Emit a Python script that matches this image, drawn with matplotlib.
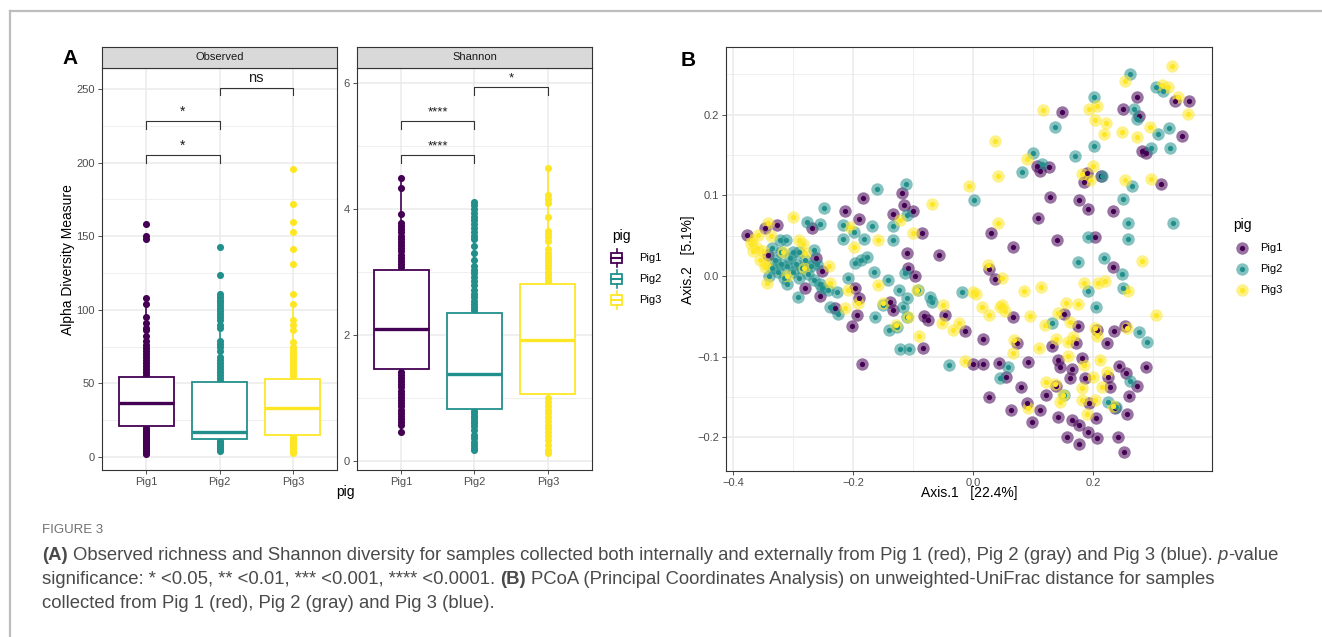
import numpy as np
import matplotlib.pyplot as plt
from matplotlib.patches import Rectangle

plt.rcParams['font.family'] = ['Liberation Sans', 'DejaVu Sans']

W, H = 1322, 637
pigs = ['Pig1', 'Pig2', 'Pig3']
colors = ['#440154', '#21908C', '#FDE725']

# Observed richness: box stats
obs_q1 = [21, 12, 15]
obs_med = [37, 17, 33]
obs_q3 = [54.5, 51, 53]
obs_lo = [2, 4, 3]
obs_hi = [104, 109, 104]
obs_pig1 = [2, 3, 4, 5, 6, 7, 8, 9, 10, 11, 12, 13, 14, 15, 16, 17, 18, 19, 20,
            56, 58, 60, 62, 64, 66, 68, 70, 72, 74, 76, 79, 82, 86, 88, 91, 95,
            104, 108, 148, 150, 158]
obs_pig2 = [4, 5, 6, 7, 8, 9, 10, 11, 52, 54, 56, 58, 60, 62, 64, 66, 68, 72,
            75, 77, 79, 88, 90, 93, 95, 97, 99, 101, 103, 105, 107, 109, 111,
            124, 143]
obs_pig3 = [3, 4, 5, 6, 7, 8, 9, 10, 11, 12, 13, 14, 55, 57, 59, 61, 63, 65,
            67, 69, 71, 73, 75, 78, 86, 90, 93, 104, 111, 131, 141, 153, 160,
            172, 196]

# Shannon
sha_q1 = [1.46, 0.83, 1.06]
sha_med = [2.10, 1.38, 1.92]
sha_q3 = [3.03, 2.35, 2.81]
sha_lo = [0.46, 0.17, 0.13]
sha_hi = [4.49, 4.12, 4.65]
sha_pig1 = [0.46, 0.57, 0.62, 0.67, 0.72, 0.77, 0.82, 0.87, 0.92, 0.97, 1.02,
            1.07, 1.12, 1.17, 1.22, 1.27, 1.32, 1.37, 1.42,
            3.08, 3.13, 3.18, 3.23, 3.28, 3.33, 3.38, 3.43, 3.48, 3.53, 3.58,
            3.63, 3.68, 3.73, 3.78, 3.92, 4.33, 4.49]
sha_pig2 = [0.17, 0.21, 0.26, 0.31, 0.36, 0.42, 0.5, 0.56, 0.6, 0.64, 0.68,
            0.72, 0.76, 0.8,
            2.40, 2.45, 2.50, 2.55, 2.60, 2.66, 2.72, 2.8, 2.86, 2.92, 2.98,
            3.04, 3.1, 3.2, 3.3, 3.42, 3.52, 3.58, 3.64, 3.7, 3.76, 3.82, 3.88,
            3.94, 4.0, 4.06, 4.12]
sha_pig3 = [0.13, 0.18, 0.26, 0.33, 0.4, 0.46, 0.52, 0.58, 0.64, 0.7, 0.76,
            0.82, 0.88, 0.94, 1.0,
            2.86, 2.91, 2.96, 3.01, 3.06, 3.11, 3.16, 3.21, 3.26, 3.31, 3.36,
            3.5, 3.55, 3.6, 3.65, 3.87, 4.1, 4.16, 4.22, 4.65]

# significance brackets: (from, to, bar height, label)
obs_brackets = [(1, 2, 205, '*'), (1, 2, 228, '*'), (2, 3, 251, 'ns')]
sha_brackets = [(1, 2, 4.86, '****'), (1, 2, 5.40, '****'), (2, 3, 5.94, '*')]

# PCoA coordinates
pig1_xy = [(-0.377, 0.051), (-0.347, 0.060), (-0.327, 0.063), (-0.342, 0.026), (-0.213, 0.080),
           (-0.183, 0.097), (-0.19, 0.071), (-0.268, 0.060), (-0.262, 0.022), (-0.252, 0.006),
           (-0.118, 0.103), (-0.115, 0.088), (-0.10, 0.081), (-0.133, 0.077), (-0.085, 0.053),
           (-0.11, 0.028), (-0.108, 0.010), (-0.097, 0.0), (-0.057, 0.026), (0.03, 0.053),
           (0.027, 0.008), (-0.28, -0.015), (-0.255, -0.025), (-0.23, -0.040), (-0.197, -0.015),
           (-0.19, -0.028), (-0.193, -0.049), (-0.202, -0.062), (-0.138, -0.032), (-0.133, -0.042),
           (-0.082, -0.050), (-0.075, -0.055), (-0.047, -0.048), (-0.013, -0.068), (0.017, -0.078),
           (-0.083, -0.089), (-0.185, -0.109), (0.0, -0.109), (0.017, -0.109), (0.027, -0.150),
           (0.043, -0.108), (0.148, 0.203), (0.25, 0.207), (0.273, 0.222), (0.277, 0.199),
           (0.337, 0.217), (0.36, 0.217), (0.348, 0.173), (0.282, 0.155), (0.288, 0.152),
           (0.107, 0.136), (0.112, 0.130), (0.127, 0.135), (0.19, 0.128), (0.185, 0.116),
           (0.213, 0.124), (0.313, 0.114), (0.128, 0.098), (0.177, 0.094), (0.192, 0.083),
           (0.233, 0.081), (0.108, 0.072), (0.067, 0.036), (0.14, 0.045), (0.203, 0.048),
           (0.233, 0.011), (0.037, -0.004), (0.067, -0.051), (0.152, -0.047), (0.175, -0.062),
           (0.207, -0.067), (0.235, -0.068), (0.253, -0.062), (0.223, -0.083), (0.132, -0.087),
           (0.172, -0.083), (0.073, -0.083), (0.092, -0.107), (0.142, -0.104), (0.145, -0.113),
           (0.165, -0.115), (0.162, -0.127), (0.182, -0.102), (0.187, -0.127), (0.243, -0.112),
           (0.255, -0.121), (0.288, -0.113), (0.273, -0.136), (0.225, -0.126), (0.228, -0.138),
           (0.138, -0.136), (0.055, -0.125), (0.08, -0.138), (0.122, -0.148), (0.09, -0.158),
           (0.063, -0.166), (0.112, -0.166), (0.193, -0.158), (0.237, -0.164), (0.26, -0.149),
           (0.257, -0.171), (0.142, -0.175), (0.165, -0.179), (0.177, -0.185), (0.205, -0.176),
           (0.098, -0.181), (0.192, -0.194), (0.157, -0.200), (0.207, -0.201), (0.177, -0.208),
           (0.242, -0.200), (0.252, -0.219)]
pig2_xy = [(-0.277, 0.067), (-0.255, 0.065), (-0.248, 0.084), (-0.312, 0.044), (-0.217, 0.063),
           (-0.217, 0.046), (-0.198, 0.054), (-0.182, 0.046), (-0.168, 0.062), (-0.16, 0.108),
           (-0.133, 0.062), (-0.133, 0.044), (-0.112, 0.114), (-0.11, 0.075), (0.002, 0.094),
           (-0.197, 0.016), (-0.187, 0.020), (-0.177, 0.024), (-0.165, 0.005), (-0.265, 0.032),
           (-0.335, 0.010), (-0.33, 0.02), (-0.325, 0.005), (-0.32, 0.015), (-0.315, -0.003),
           (-0.31, 0.012), (-0.305, 0.022), (-0.30, 0.005), (-0.295, 0.015), (-0.29, -0.002),
           (-0.285, 0.010), (-0.28, 0.02), (-0.275, 0.003), (-0.27, 0.012), (-0.265, -0.005),
           (-0.32, 0.03), (-0.30, 0.03), (-0.29, 0.03), (-0.34, 0.0), (-0.31, -0.01),
           (-0.26, 0.015), (-0.255, -0.01), (-0.335, 0.035), (-0.322, 0.045),
           (-0.292, -0.026), (-0.252, -0.015), (-0.242, -0.017), (-0.227, -0.020), (-0.238, -0.038),
           (-0.225, -0.047), (-0.208, -0.003), (-0.163, -0.051), (-0.142, -0.005), (-0.14, -0.067),
           (-0.127, -0.063), (-0.123, -0.017), (-0.117, -0.038), (-0.11, -0.028), (-0.11, -0.051),
           (-0.122, -0.091), (-0.107, -0.091), (-0.092, -0.017), (-0.072, -0.026), (-0.068, -0.032),
           (-0.018, -0.020), (-0.04, -0.111), (-0.15, -0.036), (-0.113, 0.004),
           (0.262, 0.251), (0.305, 0.234), (0.317, 0.229), (0.202, 0.222), (0.137, 0.185),
           (0.268, 0.207), (0.273, 0.195), (0.308, 0.176), (0.327, 0.183), (0.328, 0.159),
           (0.297, 0.159), (0.202, 0.161), (0.17, 0.149), (0.10, 0.153), (0.082, 0.129),
           (0.115, 0.139), (0.215, 0.124), (0.265, 0.112), (0.25, 0.096), (0.258, 0.066),
           (0.258, 0.046), (0.333, 0.066), (0.192, 0.048), (0.175, 0.017), (0.218, 0.022),
           (0.248, 0.002), (0.192, -0.019), (0.25, -0.015), (0.205, -0.038), (0.132, -0.058),
           (0.277, -0.070), (0.29, -0.082), (0.058, -0.113), (0.045, -0.127), (0.262, -0.130),
           (0.152, -0.148), (0.225, -0.157), (0.238, -0.163)]
pig3_xy = [(-0.342, 0.066), (-0.368, 0.045), (-0.367, 0.031), (-0.35, 0.031), (-0.337, 0.049),
           (-0.30, 0.073), (-0.29, 0.044), (-0.283, 0.040), (-0.28, 0.029), (-0.317, 0.030),
           (-0.347, 0.011), (-0.358, 0.051), (-0.24, 0.012), (-0.205, 0.061), (-0.198, 0.036),
           (-0.158, 0.045), (-0.122, 0.070), (-0.068, 0.089), (-0.007, 0.111), (0.037, 0.168),
           (0.042, 0.124), (0.042, 0.066), (0.025, 0.014), (-0.10, 0.053),
           (-0.36, 0.035), (-0.355, 0.02), (-0.345, 0.015), (-0.37, 0.04), (-0.31, 0.0), (-0.282, 0.01),
           (-0.343, -0.009), (-0.238, -0.009), (-0.208, -0.017), (-0.213, -0.040), (-0.192, -0.034),
           (-0.158, -0.011), (-0.15, -0.034), (-0.128, -0.061), (-0.09, -0.075), (-0.093, -0.017),
           (-0.108, -0.051), (-0.05, -0.036), (-0.052, -0.059), (-0.033, -0.067), (-0.023, -0.058),
           (0.0, -0.020), (0.005, -0.022), (0.015, -0.038), (0.027, -0.049), (-0.013, -0.105),
           (0.045, -0.038), (0.117, 0.206), (0.09, 0.145), (0.193, 0.207), (0.207, 0.211),
           (0.203, 0.193), (0.222, 0.19), (0.218, 0.176), (0.248, 0.178), (0.273, 0.172),
           (0.295, 0.185), (0.253, 0.242), (0.315, 0.237), (0.325, 0.234), (0.332, 0.261),
           (0.342, 0.222), (0.358, 0.201), (0.182, 0.127), (0.2, 0.136), (0.253, 0.119),
           (0.297, 0.120), (0.195, 0.119), (0.282, 0.019), (0.048, -0.003), (0.085, -0.019),
           (0.113, -0.014), (0.185, -0.009), (0.208, -0.009), (0.22, -0.006), (0.258, -0.019),
           (0.048, -0.036), (0.053, -0.043), (0.095, -0.050), (0.155, -0.034), (0.175, -0.035),
           (0.142, -0.046), (0.12, -0.061), (0.162, -0.057), (0.305, -0.048), (0.203, -0.064),
           (0.207, -0.075), (0.257, -0.064), (0.068, -0.079), (0.067, -0.096), (0.11, -0.089),
           (0.138, -0.078), (0.158, -0.082), (0.167, -0.076), (0.158, -0.099), (0.185, -0.111),
           (0.212, -0.104), (0.223, -0.119), (0.2, -0.125), (0.122, -0.132), (0.137, -0.134),
           (0.215, -0.138), (0.182, -0.139), (0.15, -0.148), (0.145, -0.156), (0.182, -0.154),
           (0.203, -0.154), (0.092, -0.164), (0.19, -0.171), (0.233, -0.161)]

caption_title = 'FIGURE 3'
caption_lines = [
    [('(A)', 'bold'), (' ', None), ('Observed richness and Shannon diversity for samples collected both internally and externally from Pig 1 (red), Pig 2 (gray) and Pig 3 (blue).', 'normal'), (' ', None), ('p', 'italic'), ('-value', 'normal')],
    [('significance: * <0.05, ** <0.01, *** <0.001, **** <0.0001.', 'normal'), (' ', None), ('(B)', 'bold'), (' ', None), ('PCoA (Principal Coordinates Analysis) on unweighted-UniFrac distance for samples', 'normal')],
    [('collected from Pig 1 (red), Pig 2 (gray) and Pig 3 (blue).', 'normal')],
]

fig = plt.figure(figsize=(W / 100, H / 100), dpi=100)


def px_axes(x0, y0, x1, y1):
    return fig.add_axes([x0 / W, 1 - y1 / H, (x1 - x0) / W, (y1 - y0) / H])


def gg_style(ax):
    for s in ax.spines.values():
        s.set_color('#333333')
        s.set_linewidth(0.8)
    ax.tick_params(which='major', colors='#333333', labelcolor='#4D4D4D',
                   labelsize=8, length=3, width=0.6, pad=2)
    ax.tick_params(which='minor', length=0)
    ax.grid(which='major', color='#EBEBEB', lw=1.1)
    ax.grid(which='minor', color='#EBEBEB', lw=0.55)
    ax.set_axisbelow(True)


def strip(x0, x1, label):
    s = px_axes(x0, 47, x1, 68)
    s.set_facecolor('#D9D9D9')
    s.set_xticks([])
    s.set_yticks([])
    for sp in s.spines.values():
        sp.set_color('#333333')
        sp.set_linewidth(0.8)
    s.text(0.5, 0.5, label, ha='center', va='center', fontsize=8, color='#1A1A1A',
           transform=s.transAxes)


def box_panel(ax, q1, med, q3, lo, hi, pts, brackets, tip, star_size):
    for i, vals in enumerate(pts):
        ax.scatter(np.full(len(vals), i + 1), vals, s=26, color=colors[i],
                   linewidths=0, zorder=2)
    stats = [dict(q1=q1[i], med=med[i], q3=q3[i], whislo=lo[i], whishi=hi[i])
             for i in range(3)]
    bp = ax.bxp(stats, positions=[1, 2, 3], widths=0.75, patch_artist=True,
                showfliers=False, showcaps=False)
    for i in range(3):
        bp['boxes'][i].set(facecolor='white', edgecolor=colors[i], lw=1.3, zorder=3)
        bp['medians'][i].set(color=colors[i], lw=2.4, zorder=4)
        for w in bp['whiskers'][2 * i:2 * i + 2]:
            w.set(color=colors[i], lw=1.2, zorder=2.5)
    for a, b, yb, lab in brackets:
        ax.plot([a, a, b, b], [yb - tip, yb, yb, yb - tip], color='#333333', lw=0.8, zorder=5)
        fs = 10.5 if lab == 'ns' else star_size
        ax.text((a + b) / 2, yb + tip * 0.3, lab, ha='center', va='bottom',
                fontsize=fs, color='#1A1A1A')
    ax.set_xlim(0.4, 3.6)
    ax.set_xticks([1, 2, 3])
    ax.set_xticklabels(pigs)
    gg_style(ax)


# Observed
ax1 = px_axes(102, 68, 337, 470)
box_panel(ax1, obs_q1, obs_med, obs_q3, obs_lo, obs_hi,
          [obs_pig1, obs_pig2, obs_pig3], obs_brackets, 5, 10)
ax1.set_ylim(-8.8, 264.3)
ax1.set_yticks([0, 50, 100, 150, 200, 250])
ax1.set_yticks([25, 75, 125, 175, 225], minor=True)
strip(102, 337, 'Observed')

# Shannon
ax2 = px_axes(357, 68, 592, 470)
box_panel(ax2, sha_q1, sha_med, sha_q3, sha_lo, sha_hi,
          [sha_pig1, sha_pig2, sha_pig3], sha_brackets, 0.13, 9.5)
ax2.set_ylim(-0.14, 6.24)
ax2.set_yticks([0, 2, 4, 6])
ax2.set_yticks([1, 3, 5], minor=True)
strip(357, 592, 'Shannon')

# PCoA
ax3 = px_axes(726, 47, 1212, 471)
for i, xy in enumerate([pig1_xy, pig2_xy, pig3_xy]):
    xy = np.array(xy)
    ax3.scatter(xy[:, 0], xy[:, 1], s=80, color=colors[i], alpha=0.55,
                linewidths=0, zorder=2)
for i, xy in enumerate([pig1_xy, pig2_xy, pig3_xy]):
    xy = np.array(xy)
    ax3.scatter(xy[:, 0], xy[:, 1], s=14, color=colors[i], linewidths=0, zorder=3)
ax3.set_xlim(-0.412, 0.398)
ax3.set_ylim(-0.242, 0.284)
ax3.set_xticks([-0.4, -0.2, 0.0, 0.2])
ax3.set_xticklabels(['\u22120.4', '\u22120.2', '0.0', '0.2'])
ax3.set_xticks([-0.3, -0.1, 0.1, 0.3], minor=True)
ax3.set_yticks([-0.2, -0.1, 0.0, 0.1, 0.2])
ax3.set_yticklabels(['\u22120.2', '\u22120.1', '0.0', '0.1', '0.2'])
ax3.set_yticks([-0.15, -0.05, 0.05, 0.15, 0.25], minor=True)
gg_style(ax3)

# overlay in pixel coordinates for labels, legends, caption
ov = fig.add_axes([0, 0, 1, 1])
ov.set_xlim(0, W)
ov.set_ylim(H, 0)
ov.axis('off')

ov.plot([10, W], [11, 11], color='#BDBDBD', lw=1.6)
ov.plot([10, 10], [11, H], color='#BDBDBD', lw=1.6)

ov.text(70, 58, 'A', fontsize=15, weight='bold', ha='center', va='center')
ov.text(688, 60, 'B', fontsize=15, weight='bold', ha='center', va='center')
ov.text(68, 260, 'Alpha Diversity Measure', rotation=90, fontsize=10,
        ha='center', va='center')
ov.text(345, 492, 'pig', fontsize=10, ha='center', va='center')
ov.text(969, 493, 'Axis.1   [22.4%]', fontsize=10, ha='center', va='center')
ov.text(688, 260, 'Axis.2   [5.1%]', rotation=90, fontsize=10, ha='center', va='center')

# legend A (boxplot keys)
ov.text(612, 236, 'pig', fontsize=10, ha='left', va='center')
for i, lab in enumerate(pigs):
    yc = 258 + i * 21
    ov.add_patch(Rectangle((611, yc - 5), 11, 10, facecolor='white',
                           edgecolor=colors[i], lw=1.3))
    ov.plot([611, 622], [yc, yc], color=colors[i], lw=1.5)
    ov.plot([616.5, 616.5], [yc - 9, yc - 5], color=colors[i], lw=1.2)
    ov.plot([616.5, 616.5], [yc + 5, yc + 9], color=colors[i], lw=1.2)
    ov.text(639, yc, lab, fontsize=8, ha='left', va='center')

# legend B
ov.text(1233, 225, 'pig', fontsize=10, ha='left', va='center')
for i, lab in enumerate(pigs):
    yc = 248 + i * 21
    ov.scatter([1242], [yc], s=80, color=colors[i], alpha=0.55, linewidths=0)
    ov.scatter([1242], [yc], s=14, color=colors[i], linewidths=0)
    ov.text(1260, yc, lab, fontsize=8, ha='left', va='center')

# caption
ov.text(42, 530, caption_title, fontsize=9.5, color='#707070', ha='left', va='center')
renderer = fig.canvas.get_renderer()
cap_fs = 13.3
space_w = cap_fs * 100 / 72 * 0.278
for k, runs in enumerate(caption_lines):
    x = 42
    y = 555 + k * 24
    for txt, st in runs:
        if st is None:
            x += space_w
            continue
        kw = dict(fontsize=cap_fs, color='#4A4A4A', ha='left', va='center')
        if st == 'bold':
            kw['weight'] = 'bold'
        elif st == 'italic':
            kw['style'] = 'italic'
        t = ov.text(x, y, txt, **kw)
        bb = t.get_window_extent(renderer=renderer)
        x += bb.width

fig.savefig('out.png', dpi=100)
